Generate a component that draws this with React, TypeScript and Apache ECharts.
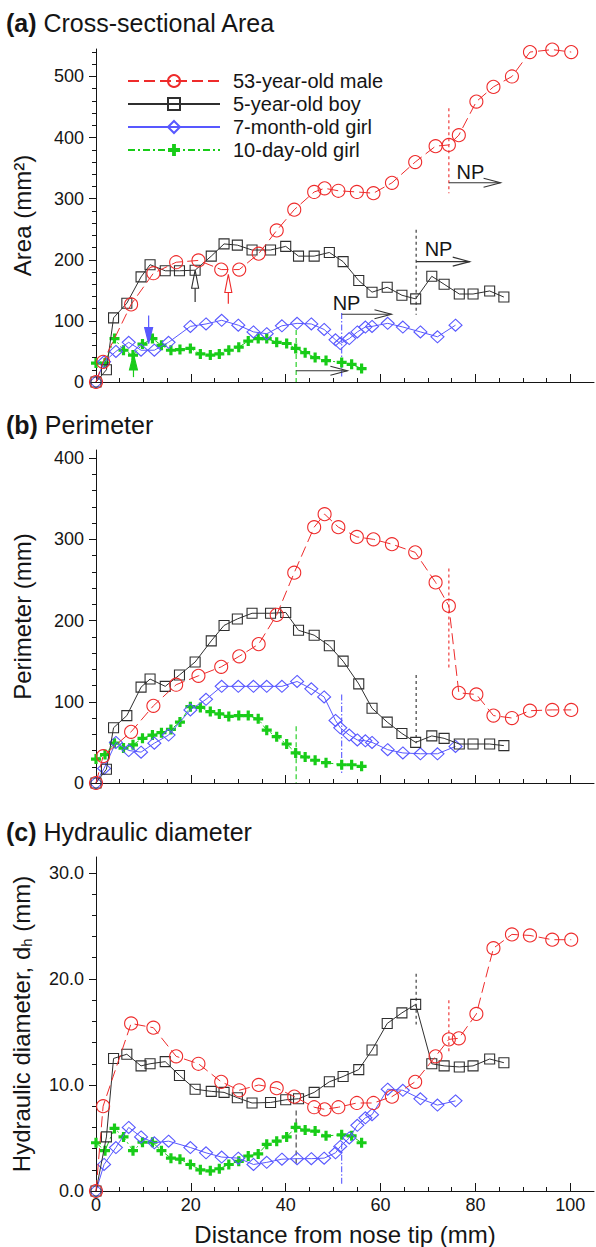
import React, { useEffect, useRef } from "react";
import * as echarts from "echarts";

// ---------- data ----------
const SUBJECTS = ["53-year-old male", "5-year-old boy", "7-month-old girl", "10-day-old girl"];

// 53-year-old male
const xMale = [0, 1.5, 7.4, 12.1, 16.9, 21.6, 26.4, 30.2, 34.3, 38.1, 41.8, 46.0, 48.2, 51.1, 55.0, 58.5, 62.4, 67.3, 71.6, 74.4, 76.5, 80.2, 83.8, 87.7, 91.5, 96.2, 100.2];
const areaMale = [0, 33, 127, 178, 196, 199, 184, 184, 210, 248, 282, 311, 317, 313, 311, 309, 326, 360, 386, 388, 404, 459, 483, 500, 540, 544, 540];
const perimMale = [0, 33, 63, 95, 121, 132, 143, 156, 171, 207, 259, 315, 331, 315, 303, 300, 294, 284, 247, 218, 111, 109, 83, 80, 89, 90, 90];
const dhMale = [0, 8.0, 15.8, 15.4, 12.7, 12.0, 10.3, 9.5, 10.0, 9.7, 8.9, 7.9, 7.7, 7.9, 8.3, 8.3, 8.9, 10.3, 12.7, 14.3, 14.4, 16.7, 22.9, 24.2, 24.1, 23.7, 23.7];

// 5-year-old boy
const xBoy = [0, 2.2, 3.7, 6.5, 9.5, 11.4, 14.6, 17.6, 20.9, 24.3, 27.0, 29.8, 32.9, 36.8, 40.0, 42.7, 46.0, 49.2, 52.1, 55.4, 58.2, 61.4, 64.5, 67.4, 70.8, 73.4, 76.6, 79.5, 83.0, 86.0];
const areaBoy = [0, 20, 105, 129, 172, 192, 182, 182, 183, 206, 226, 224, 216, 216, 222, 206, 206, 212, 197, 166, 147, 155, 142, 136, 173, 160, 144, 144, 149, 139];
const perimBoy = [0, 17, 68, 83, 118, 128, 119, 133, 149, 175, 194, 202, 209, 209, 210, 188, 182, 169, 150, 122, 92, 75, 61, 50, 58, 55, 48, 48, 48, 46];
const dhBoy = [0, 5.1, 12.5, 12.9, 11.8, 12.0, 12.2, 10.9, 9.6, 9.4, 9.3, 8.8, 8.3, 8.35, 8.6, 8.7, 9.3, 10.3, 10.8, 11.45, 13.3, 15.8, 16.8, 17.6, 12.0, 11.8, 11.7, 11.8, 12.45, 12.1];

// 7-month-old girl
const xInfant = [0, 1.7, 4.2, 6.9, 9.5, 12.3, 15.3, 19.9, 23.2, 26.5, 30.0, 33.2, 36.0, 39.2, 42.4, 45.4, 48.1, 50.5, 51.5, 53.4, 55.1, 56.8, 58.2, 61.5, 64.7, 68.4, 72.0, 75.8];
const areaInfant = [0, 33, 50, 65, 52, 52, 65, 91, 95, 101, 93, 82, 79, 92, 96, 95, 86, 69, 63, 71, 82, 90, 91, 96, 90, 82, 74, 93];
const perimInfant = [0, 18, 50, 40, 38, 49, 59, 90, 103, 119, 119, 119, 119, 119, 125, 116, 106, 77, 68, 59, 53, 52, 50, 41, 37, 36, 36, 45];
const dhInfant = [0, 2.5, 4.1, 6.0, 5.1, 4.55, 4.7, 4.1, 3.6, 3.2, 3.1, 2.5, 2.7, 3.0, 3.05, 3.05, 3.1, 3.6, 4.2, 5.0, 6.2, 6.9, 7.2, 9.6, 9.5, 8.7, 8.1, 8.5];

// 10-day-old girl
const xNewborn = [0, 1.9, 3.9, 5.8, 7.8, 9.8, 11.9, 13.8, 15.8, 17.7, 19.9, 22.0, 24.1, 26.0, 28.0, 30.1, 32.1, 34.2, 36.0, 38.1, 40.2, 42.1, 44.1, 46.2, 48.5, 51.8, 53.9, 56.0];
const areaNewborn = [31, 31, 71, 52, 44, 62, 71, 60, 52, 53, 55, 46, 44, 46, 52, 57, 67, 71, 71, 65, 63, 55, 48, 40, 35, 32, 29, 22];
const perimNewborn = [29.5, 35, 49, 43, 47, 55, 59, 62, 66, 75, 94, 93, 88, 85, 82, 83, 83, 79, 65, 57, 48, 37, 32, 28, 25, 22.5, 22.5, 20.5];
const dhNewborn = [4.55, 3.8, 5.9, 5.1, 3.8, 4.6, 4.6, 3.8, 3.1, 3.0, 2.5, 2.0, 1.9, 2.1, 2.5, 2.8, 3.3, 3.5, 4.4, 4.7, 5.1, 6.0, 5.75, 5.65, 5.2, 5.3, 5.2, 4.55];

// nasopharynx (NP) marker location per subject and vertical extent in each panel
const npX = [74.4, 67.5, 51.8, 42.2];
const npSpanA = [[448, 309], [249, 110], [113, 8], [85, 0]];
const npSpanB = [[264, 140], [133, 49], [109, 12], [70, 0]];
const npSpanC = [[18.0, 13.0], [20.5, 15.7], [4.5, 0.6], [7.6, 2.5]];
// NP arrows in panel (a): [x end, y]
const npArrowA = [[85.3, 326], [78.8, 197], [62.3, 111], [53.0, 18.5]];
// "NP" labels in panel (a): [x, y] (the 10-day-old girl has none)
const npLabelA = [[76.0, 343], [69.3, 218], [49.9, 130]];
// landmark arrows in panel (a): x, tail value, tip value
const markX = [27.9, 20.9, 11.1, 7.9];
const markTail = [128, 131, 109, 8];
const markTip = [176, 183, 63, 46];

// axis ticks
const xMajor = [0, 20, 40, 60, 80, 100];
const yMajorA = [0, 100, 200, 300, 400, 500];
const yMajorB = [0, 100, 200, 300, 400];
const yMajorC = [0, 10, 20, 30];

// ---------- styling ----------
const FONT = '"Liberation Sans", Arial, Helvetica, sans-serif';
const INK = "#151515";
const COLORS = ["#ee2b2b", "#2f2f2f", "#5858ff", "#18cc18"];
const NP_DASH = [[3, 3], [3, 3], [6, 2, 1.5, 2], [5, 3]];
const PLUS = "path://M3.4,0H6.6V3.4H10V6.6H6.6V10H3.4V6.6H0V3.4H3.4Z";

function minorTicks(max: number, step: number, major: number): number[] {
  const out: number[] = [];
  for (let k = 1; k * step <= max + 1e-9; k++) {
    const v = Math.round(k * step * 1000) / 1000;
    const r = v / major;
    if (Math.abs(r - Math.round(r)) > 1e-6) out.push(v);
  }
  return out;
}

const pairs = (xs: number[], ys: number[]) => xs.map((x, i) => [x, ys[i]]);

function buildOption() {
  const panels = [
    { top: 49, height: 333, max: 545, step: 100, major: yMajorA, minor: minorTicks(545, 20, 100), name: "Area (mm²)", fmt: (v: number) => String(v), data: [areaMale, areaBoy, areaInfant, areaNewborn], span: npSpanA, npColors: COLORS },
    { top: 450, height: 333, max: 410, step: 100, major: yMajorB, minor: minorTicks(410, 20, 100), name: "Perimeter (mm)", fmt: (v: number) => String(v), data: [perimMale, perimBoy, perimInfant, perimNewborn], span: npSpanB, npColors: COLORS },
    { top: 857, height: 335, max: 31.5, step: 10, major: yMajorC, minor: minorTicks(31.5, 2, 10), name: "Hydraulic diameter, d{sub|h} (mm)", fmt: (v: number) => v.toFixed(1), data: [dhMale, dhBoy, dhInfant, dhNewborn], span: npSpanC, npColors: [COLORS[0], COLORS[1], COLORS[2], "#3a3a3a"] },
  ];
  const xs = [xMale, xBoy, xInfant, xNewborn];

  const grid: any[] = [];
  const xAxis: any[] = [];
  const yAxis: any[] = [];
  const series: any[] = [];

  const tickLine = { color: INK, width: 1 };

  panels.forEach((p, g) => {
    grid.push({ left: 96, right: 2, top: p.top, height: p.height, containLabel: false });
    const isLast = g === 2;
    xAxis.push({
      type: "value", gridIndex: g, position: "bottom", min: 0, max: 105, interval: 20,
      axisLine: { show: true, onZero: false, lineStyle: { color: INK, width: 1 } },
      axisTick: { show: true, inside: true, length: 8, customValues: xMajor, lineStyle: tickLine },
      axisLabel: { show: isLast, customValues: xMajor, showMaxLabel: true, showMinLabel: true, margin: 5, fontSize: 18, fontFamily: FONT, color: INK },
      splitLine: { show: false },
      name: isLast ? "Distance from nose tip (mm)" : "",
      nameLocation: "middle", nameGap: 31,
      nameTextStyle: { fontSize: 24, fontFamily: FONT, color: INK },
    });
    xAxis.push({
      type: "value", gridIndex: g, position: "bottom", min: 0, max: 105, interval: 5,
      axisLine: { show: false },
      axisTick: { show: true, inside: true, length: 4, customValues: minorTicks(100, 5, 20), lineStyle: tickLine },
      axisLabel: { show: false }, splitLine: { show: false },
    });
    yAxis.push({
      type: "value", gridIndex: g, position: "left", min: 0, max: p.max, interval: p.step,
      axisLine: { show: true, onZero: false, lineStyle: { color: INK, width: 1 } },
      axisTick: { show: true, inside: false, length: 7, customValues: p.major, lineStyle: tickLine },
      axisLabel: { show: true, customValues: p.major, showMaxLabel: true, margin: 12, fontSize: 18, fontFamily: FONT, color: INK, formatter: p.fmt },
      splitLine: { show: false },
      name: p.name, nameLocation: "middle", nameGap: 62,
      nameTextStyle: { fontSize: 24, fontFamily: FONT, color: INK, rich: { sub: { fontSize: 15, fontFamily: FONT, color: INK, padding: [10, 0, 0, 0] } } },
    });
    yAxis.push({
      type: "value", gridIndex: g, position: "left", min: 0, max: p.max,
      axisLine: { show: false },
      axisTick: { show: true, inside: false, length: 4, customValues: p.minor, lineStyle: tickLine },
      axisLabel: { show: false }, splitLine: { show: false },
    });

    const xi = 2 * g, yi = 2 * g;
    // series: draw newborn first, male last (on top)
    const order = [3, 2, 1, 0];
    order.forEach((k) => {
      const base: any = {
        type: "line", name: SUBJECTS[k], xAxisIndex: xi, yAxisIndex: yi,
        data: pairs(xs[k], p.data[k]), silent: true, animation: false,
        emphasis: { disabled: true },
      };
      if (k === 0) Object.assign(base, { symbol: "circle", symbolSize: 13, lineStyle: { color: COLORS[0], width: 1, type: [11, 5] }, itemStyle: { color: "rgba(255,255,255,0)", borderColor: COLORS[0], borderWidth: 1.1 }, z: 5 });
      if (k === 1) Object.assign(base, { symbol: "rect", symbolSize: 10, lineStyle: { color: COLORS[1], width: 1, type: "solid" }, itemStyle: { color: "rgba(255,255,255,0)", borderColor: COLORS[1], borderWidth: 1.1 }, z: 4 });
      if (k === 2) Object.assign(base, { symbol: "diamond", symbolSize: [13, 12], lineStyle: { color: COLORS[2], width: 1, type: "solid" }, itemStyle: { color: "rgba(255,255,255,0)", borderColor: COLORS[2], borderWidth: 1.1 }, z: 3 });
      if (k === 3) Object.assign(base, { symbol: PLUS, symbolSize: 10, lineStyle: { color: COLORS[3], width: 1, type: [7, 3, 2, 3] }, itemStyle: { color: COLORS[3], borderWidth: 0 }, z: 2 });
      series.push(base);
    });

    // NP vertical markers
    const npColors = p.npColors;
    series.push({
      type: "custom", name: "np-lines-" + g, xAxisIndex: xi, yAxisIndex: yi, silent: true, z: 1,
      data: npX.map((x, i) => [x, p.span[i][0], p.span[i][1]]),
      renderItem: (params: any, api: any) => {
        const i = params.dataIndex;
        const a = api.coord([api.value(0), api.value(1)]);
        const b = api.coord([api.value(0), api.value(2)]);
        return { type: "line", shape: { x1: a[0], y1: a[1], x2: b[0], y2: b[1] }, style: { stroke: npColors[i], lineWidth: 1.1, lineDash: NP_DASH[i], fill: null } };
      },
    });
  });

  // NP arrows + labels in panel (a)
  series.push({
    type: "custom", name: "np-arrows", xAxisIndex: 0, yAxisIndex: 0, silent: true, z: 6,
    data: npX.map((x, i) => [x, npArrowA[i][1], npArrowA[i][0]]),
    renderItem: (params: any, api: any) => {
      const i = params.dataIndex;
      const a = api.coord([api.value(0), api.value(1)]);
      const b = api.coord([api.value(2), api.value(1)]);
      const children: any[] = [
        { type: "line", shape: { x1: a[0], y1: a[1], x2: b[0], y2: b[1] }, style: { stroke: "#333", lineWidth: 1.1 } },
        { type: "polyline", shape: { points: [[b[0] - 17, b[1] - 4.5], [b[0], b[1]], [b[0] - 17, b[1] + 4.5]] }, style: { stroke: "#333", lineWidth: 1.1, fill: null } },
      ];
      const lab = npLabelA[i];
      if (lab) {
        const c = api.coord(lab);
        children.push({ type: "text", x: c[0], y: c[1], style: { text: "NP", fill: INK, font: "20px " + FONT, align: "left", verticalAlign: "middle", textAlign: "left", textVerticalAlign: "middle" } });
      }
      return { type: "group", children };
    },
  });

  // landmark arrows in panel (a)
  series.push({
    type: "custom", name: "landmarks", xAxisIndex: 0, yAxisIndex: 0, silent: true, z: 6,
    data: markX.map((x, i) => [x, markTail[i], markTip[i]]),
    renderItem: (params: any, api: any) => {
      const i = params.dataIndex;
      const t = api.coord([api.value(0), api.value(1)]);
      const p = api.coord([api.value(0), api.value(2)]);
      const filled = i >= 2;
      const dir = p[1] > t[1] ? 1 : -1;
      const headLen = filled ? 16 : 18;
      const base = p[1] - dir * headLen;
      const hw = filled ? 4 : 3.5;
      return {
        type: "group",
        children: [
          { type: "line", shape: { x1: t[0], y1: t[1], x2: t[0], y2: base }, style: { stroke: COLORS[i], lineWidth: 1.2 } },
          { type: "polygon", shape: { points: [[p[0] - hw, base], [p[0], p[1]], [p[0] + hw, base]] }, style: { stroke: COLORS[i], lineWidth: 1.1, fill: filled ? COLORS[i] : "rgba(255,255,255,0)" } },
        ],
      };
    },
  });

  const titles = [
    { t: "(a)", s: " Cross-sectional Area", top: 10 },
    { t: "(b)", s: " Perimeter", top: 412 },
    { t: "(c)", s: " Hydraulic diameter", top: 819 },
  ].map((d) => ({
    text: "{b|" + d.t + "}{n|" + d.s + "}", left: 6, top: d.top, padding: 0,
    textStyle: {
      rich: {
        b: { fontFamily: FONT, fontSize: 25, fontWeight: "bold", color: INK },
        n: { fontFamily: FONT, fontSize: 25, fontWeight: "normal", color: INK },
      },
    },
  }));

  return {
    animation: false,
    backgroundColor: "#ffffff",
    title: titles,
    legend: {
      data: SUBJECTS, orient: "vertical", left: 127, top: 71, padding: 0,
      itemWidth: 92, itemHeight: 15, itemGap: 3, selectedMode: false,
      textStyle: { fontFamily: FONT, fontSize: 20, color: INK, padding: [0, 0, 0, 8] },
    },
    grid, xAxis, yAxis, series,
  };
}

export default function App() {
  const ref = useRef<HTMLDivElement>(null);
  useEffect(() => {
    document.body.style.margin = "0";
    const chart = echarts.init(ref.current as HTMLDivElement, null, { renderer: "svg" });
    chart.setOption(buildOption() as any);
    return () => chart.dispose();
  }, []);
  return <div ref={ref} style={{ width: 596, height: 1247 }} />;
}
